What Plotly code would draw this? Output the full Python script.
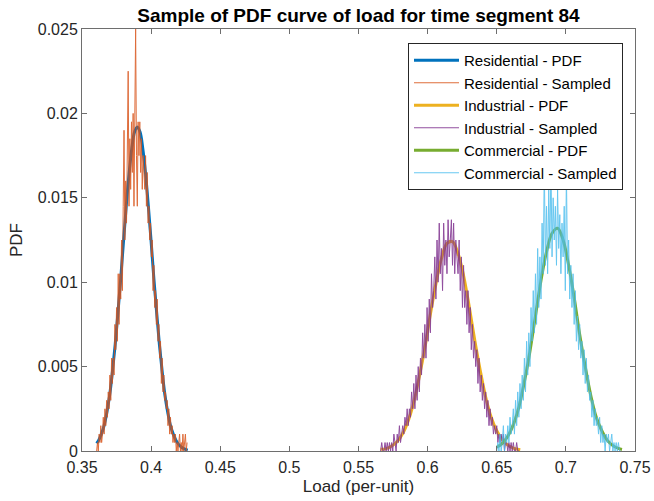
import numpy as np
import plotly.graph_objects as go

# ---------------- data ----------------
res_pdf_x = [0.3606, 0.362, 0.364, 0.366, 0.368, 0.370, 0.372, 0.374, 0.376, 0.378, 0.380,
             0.382, 0.384, 0.386, 0.388, 0.390, 0.392, 0.394, 0.396, 0.398, 0.400, 0.402,
             0.404, 0.406, 0.408, 0.410, 0.412, 0.414, 0.416, 0.418, 0.420, 0.422, 0.424, 0.4265]
res_pdf_y = [0.00045, 0.00063, 0.0010, 0.0015, 0.0023, 0.0033, 0.0047, 0.0063, 0.0082, 0.0102,
             0.0124, 0.0145, 0.0164, 0.0179, 0.0189, 0.0192, 0.0189, 0.0179, 0.0164, 0.0145,
             0.0124, 0.0102, 0.0082, 0.0063, 0.0047, 0.0033, 0.0023, 0.0015, 0.0010, 0.00063,
             0.00038, 0.00022, 0.00012, 0.00005]

res_smp_start, res_smp_end = 0.3606, 0.4260
res_smp_y = [0.0, 0.0005, 0.0, 0.001, 0.0005, 0.0015, 0.0005, 0.001, 0.002, 0.001,
             0.0025, 0.0015, 0.003, 0.002, 0.0035, 0.0025, 0.0045, 0.003, 0.0055, 0.004,
             0.0055, 0.0045, 0.0075, 0.006, 0.0085, 0.0065, 0.0105, 0.0075, 0.0105, 0.009,
             0.0125, 0.0095, 0.0145, 0.019, 0.0125, 0.016, 0.0135, 0.0175, 0.0225, 0.0145,
             0.0185, 0.0155, 0.0195, 0.0165, 0.020, 0.0145, 0.0195, 0.025, 0.0175, 0.0145,
             0.0195, 0.0175, 0.0195, 0.0165, 0.0185, 0.0155, 0.0175, 0.016, 0.0155, 0.0175,
             0.0145, 0.0165, 0.0135, 0.0145, 0.0125, 0.0135, 0.0115, 0.0125, 0.0095, 0.011,
             0.0085, 0.0095, 0.0075, 0.009, 0.0065, 0.0075, 0.0055, 0.0065, 0.004, 0.0055,
             0.0035, 0.0045, 0.003, 0.0035, 0.0025, 0.003, 0.0015, 0.0025, 0.001, 0.002,
             0.001, 0.0015, 0.0005, 0.001, 0.0005, 0.001, 0.0, 0.0005, 0.0, 0.0005,
             0.001, 0.0, 0.0005, 0.0, 0.001, 0.0, 0.0005, 0.001, 0.0, 0.0005]

ind_pdf_x = [0.566, 0.570, 0.574, 0.578, 0.582, 0.586, 0.590, 0.594, 0.598, 0.602, 0.606,
             0.610, 0.614, 0.618, 0.622, 0.626, 0.630, 0.634, 0.638, 0.642, 0.646, 0.650,
             0.654, 0.658, 0.662, 0.667]
ind_pdf_y = [0.0001, 0.00014, 0.00029, 0.00056, 0.00104, 0.0018, 0.0029, 0.0044, 0.0061,
             0.0081, 0.0099, 0.0114, 0.0123, 0.0124, 0.0117, 0.0104, 0.0086, 0.0066, 0.0048,
             0.0032, 0.0020, 0.0012, 0.00067, 0.00035, 0.00017, 0.00007]

ind_smp_start, ind_smp_end = 0.566, 0.666
ind_smp_y = [0, 0.0005, 0, 0, 0.0005,
             0, 0.0005, 0, 0.0005, 0,
             0.0005, 0, 0.001, 0.0005, 0,
             0.001, 0.0005, 0.0015, 0.0005, 0.001,
             0.0015, 0.001, 0.002, 0.0015, 0.0025,
             0.0015, 0.0025, 0.002, 0.0035, 0.0025,
             0.004, 0.0025, 0.0045, 0.003, 0.005,
             0.0035, 0.0055, 0.0045, 0.007, 0.0055,
             0.0075, 0.0055, 0.0085, 0.0065, 0.009,
             0.007, 0.0105, 0.0085, 0.0095, 0.0115,
             0.009, 0.0125, 0.010, 0.0135, 0.0105,
             0.012, 0.0095, 0.0135, 0.011, 0.0125,
             0.0105, 0.0137, 0.0115, 0.0125, 0.0137,
             0.011, 0.0135, 0.0105, 0.0125, 0.0115,
             0.0105, 0.0125, 0.0095, 0.0115, 0.0085,
             0.011, 0.0085, 0.0095, 0.0075, 0.0095,
             0.007, 0.0085, 0.006, 0.0075, 0.0055,
             0.0065, 0.005, 0.006, 0.004, 0.0055,
             0.0035, 0.0045, 0.003, 0.004, 0.0025,
             0.0035, 0.002, 0.003, 0.0015, 0.0025,
             0.0015, 0.002, 0.001, 0.0015, 0.001,
             0.0015, 0.0005, 0.001, 0.0005, 0.001,
             0.0005, 0.001, 0, 0.0005, 0.0005,
             0, 0.0005, 0, 0.0005, 0,
             0.0005, 0, 0, 0.0005, 0,
             0]

com_pdf_x = [0.650, 0.654, 0.658, 0.662, 0.666, 0.670, 0.674, 0.678, 0.682, 0.686, 0.690,
             0.694, 0.698, 0.702, 0.706, 0.710, 0.714, 0.718, 0.722, 0.726, 0.730, 0.734,
             0.738, 0.7406]
com_pdf_y = [0.00022, 0.00045, 0.00087, 0.00156, 0.0026, 0.0041, 0.0059, 0.0080, 0.0101,
             0.0118, 0.0129, 0.0132, 0.0125, 0.0110, 0.0091, 0.0069, 0.0050, 0.0033, 0.0020,
             0.0012, 0.00063, 0.00032, 0.00015, 0.00009]

com_smp_start, com_smp_end = 0.650, 0.7396
com_smp_y = [0, 0.0005, 0, 0.001, 0,
             0.0005, 0.0015, 0, 0.001, 0.0005,
             0.0015, 0.0005, 0.002, 0.001, 0.0015,
             0.0025, 0.001, 0.003, 0.0015, 0.0035,
             0.002, 0.004, 0.0025, 0.0045, 0.003,
             0.0055, 0.0035, 0.0065, 0.0045, 0.007,
             0.005, 0.0085, 0.0065, 0.0095, 0.007,
             0.0105, 0.0075, 0.012, 0.0085, 0.0115,
             0.009, 0.0135, 0.0105, 0.017, 0.011,
             0.0145, 0.0105, 0.0155, 0.012, 0.017,
             0.0115, 0.015, 0.0125, 0.0145, 0.011,
             0.0155, 0.012, 0.014, 0.0105, 0.0135,
             0.0115, 0.0145, 0.0095, 0.0165, 0.0105,
             0.0125, 0.009, 0.011, 0.0085, 0.0105,
             0.0075, 0.0095, 0.0065, 0.008, 0.006,
             0.0075, 0.0055, 0.0065, 0.0045, 0.006,
             0.004, 0.0055, 0.0035, 0.0045, 0.003,
             0.0035, 0.002, 0.003, 0.0015, 0.0025,
             0.0015, 0.002, 0.001, 0.002, 0.0005,
             0.0015, 0.0005, 0.001, 0, 0.001,
             0.0005, 0.001, 0, 0.0005, 0.001,
             0, 0.0005, 0, 0.0005, 0,
             0.0005, 0, 0]

x_ticks = [0.35, 0.4, 0.45, 0.5, 0.55, 0.6, 0.65, 0.7, 0.75]
y_ticks = [0, 0.005, 0.01, 0.015, 0.02, 0.025]

# ---------------- figure ----------------
def grid(a, b, vals):
    return np.linspace(a, b, len(vals))

series = [
    ("Residential - PDF", res_pdf_x, res_pdf_y, "#0072BD", 3.0, 1.0),
    ("Residential - Sampled", grid(res_smp_start, res_smp_end, res_smp_y), res_smp_y, "#D95319", 1.0, 0.85),
    ("Industrial - PDF", ind_pdf_x, ind_pdf_y, "#EDB120", 3.0, 1.0),
    ("Industrial - Sampled", grid(ind_smp_start, ind_smp_end, ind_smp_y), ind_smp_y, "#7E2F8E", 1.0, 0.85),
    ("Commercial - PDF", com_pdf_x, com_pdf_y, "#77AC30", 3.0, 1.0),
    ("Commercial - Sampled", grid(com_smp_start, com_smp_end, com_smp_y), com_smp_y, "#4DBEEE", 1.0, 0.85),
]

fig = go.Figure()
for name, xs, ys, col, w, op in series:
    fig.add_trace(go.Scatter(
        x=list(xs), y=ys, name=name, mode="lines",
        line=dict(color=col, width=w, shape="spline" if w > 2 else "linear"),
        opacity=op,
    ))

FONT = "Liberation Sans, Arial, sans-serif"
axis_common = dict(
    showgrid=False, zeroline=False, showline=True, linecolor="#6e6e6e", linewidth=1,
    mirror="ticks", ticks="inside", ticklen=5, tickcolor="#6e6e6e",
    tickfont=dict(family=FONT, size=16, color="#262626"),
    automargin=False,
)

fig.update_layout(
    width=654, height=501,
    margin=dict(l=82, r=19, t=29, b=50),
    paper_bgcolor="white", plot_bgcolor="white",
    font=dict(family=FONT, color="#262626"),
    title=dict(text="<b>Sample of PDF curve of load for time segment 84</b>",
               x=(82 + 635) / 2 / 654, xanchor="center", y=1 - 15 / 501, yanchor="middle",
               font=dict(size=19, color="#000000")),
    xaxis=dict(range=[0.35, 0.75], tickvals=x_ticks,
               ticktext=[f"{v:g}" for v in x_ticks],
               ticklabelstandoff=2,
               title=dict(text="Load (per-unit)", font=dict(size=17), standoff=4),
               **axis_common),
    yaxis=dict(range=[0, 0.025], tickvals=y_ticks,
               ticktext=[f"{v:g}" for v in y_ticks],
               title=dict(text="PDF", font=dict(size=17), standoff=10),
               **axis_common),
    legend=dict(x=(623 - 82) / 553, xanchor="right", y=(451 - 43) / 422, yanchor="top",
                bgcolor="white", bordercolor="#262626", borderwidth=1,
                font=dict(size=15, color="#000000"), tracegroupgap=0,
                itemwidth=45),
    showlegend=True,
)

fig.write_html("out.html")
